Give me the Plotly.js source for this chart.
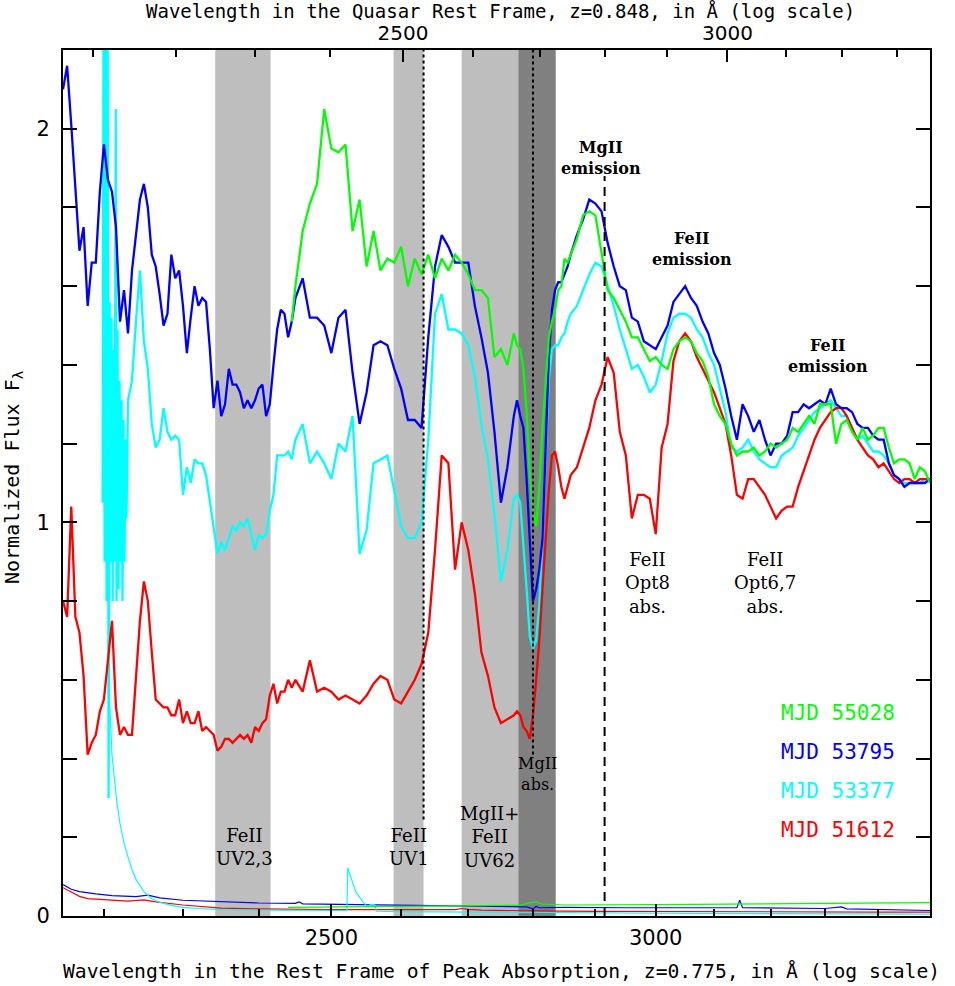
<!DOCTYPE html>
<html><head><meta charset="utf-8">
<script src="https://cdn.plot.ly/plotly-3.0.1.min.js"></script>
<style>html,body{margin:0;padding:0;background:#fff}#chart{width:955px;height:986px}</style>
</head><body><div id="chart"></div>
<script>
// ---------------- DATA ----------------
const zAbs = 0.775, zQso = 0.848;
const seriesLabels = ['MJD 55028', 'MJD 53795', 'MJD 53377', 'MJD 51612'];

// wavelength grid (rest frame of peak absorption, Angstrom)
const wave = [
2150,2155,2160,2165,2170,2175,2180,2185,2190,2195,
2200,2205,2210,2215,2220,2225,2230,2235,2240,2245,
2250,2255,2260,2265,2270,2275,2280,2285,2290,2295,
2300,2305,2310,2315,2320,2325,2330,2335,2340,2345,
2350,2355,2360,2365,2370,2375,2380,2385,2390,2395,
2400,2405,2410,2415,2420,2425,2430,2435,2440,2445,
2450,
2460,2470,2480,2490,2500,2510,2520,2530,2540,2550,
2560,2570,2580,2590,2600,2610,2620,2630,2640,2650,
2660,2670,2680,2690,2700,2710,2720,2730,2740,2750,
2760,
2770,2775,2780,2785,2790,2795,2800,2805,2810,2815,
2820,2825,2830,2835,2840,2845,2850,2855,2860,
2870,2880,2890,2900,2910,2920,2930,2940,2950,2960,
2970,2980,2990,3000,3010,3020,3030,3040,3050,3060,
3070,3080,3090,3100,3110,3120,3130,3140,3150,3160,
3170,3180,3190,3200,3210,3220,3230,3240,3250,3260,
3270,3280,3290,3300,3310,3320,3330,3340,3350,3360,
3370,3380,3390,3400,3410,3420,3430,3440,3450,3460,
3470,3480,3490,3500];

// MJD 55028 (green)
const flux55028 = [
null,null,null,null,null,null,null,null,null,null,
null,null,null,null,null,null,null,null,null,null,
null,null,null,null,null,null,null,null,null,null,
null,null,null,null,null,null,null,null,null,null,
null,null,null,null,null,null,null,null,null,null,
null,null,null,null,null,null,null,null,null,1.51,
1.60,
1.74,1.81,1.86,2.05,1.95,1.94,1.96,1.74,1.82,1.65,
1.74,1.64,1.67,1.66,1.70,1.60,1.67,1.63,1.68,1.62,
1.67,1.64,1.68,1.66,1.63,1.59,1.59,1.57,1.42,1.44,
1.40,
1.48,1.45,1.44,1.39,1.28,1.12,1.03,0.99,1.09,1.24,
1.36,1.47,1.51,1.54,1.59,1.60,1.67,1.66,1.68,
1.72,1.78,1.79,1.78,1.69,1.59,1.57,1.54,1.51,1.47,
1.47,1.44,1.41,1.42,1.40,1.39,1.44,1.46,1.47,1.46,
1.43,1.41,1.37,1.30,1.27,1.25,1.20,1.17,1.18,1.18,
1.19,1.17,1.18,1.20,1.19,1.20,1.21,1.24,1.23,1.25,
1.27,1.25,1.30,1.30,1.30,1.20,1.25,1.26,1.23,1.21,
1.24,1.21,1.22,1.24,1.24,1.19,1.15,1.16,1.16,1.15,
1.11,1.14,1.13,1.10];

// MJD 53795 (blue)
const flux53795 = [
2.10,2.16,2.01,1.85,1.69,1.75,1.55,1.66,1.66,1.84,
1.96,1.87,1.84,1.75,1.51,1.59,1.48,1.64,1.73,1.82,
1.86,1.80,1.68,1.65,1.58,1.50,1.53,1.68,1.62,1.64,
1.55,1.43,1.52,1.60,1.55,1.57,1.56,1.44,1.29,1.36,
1.27,1.30,1.39,1.35,1.35,1.33,1.29,1.31,1.29,1.31,
1.34,1.35,1.27,1.30,1.40,1.49,1.54,1.53,1.47,1.51,
1.57,
1.62,1.52,1.52,1.50,1.43,1.52,1.54,1.38,1.25,1.33,
1.45,1.46,1.45,1.39,1.34,1.26,1.26,1.24,1.47,1.65,
1.73,1.70,1.66,1.66,1.66,1.55,1.47,1.38,1.23,1.05,
1.14,
1.27,1.31,1.27,1.24,1.11,0.94,0.80,0.83,0.88,0.96,
1.20,1.42,1.54,1.59,1.61,1.61,1.63,1.65,1.68,
1.73,1.77,1.82,1.81,1.79,1.71,1.65,1.60,1.59,1.52,
1.51,1.46,1.45,1.44,1.47,1.50,1.56,1.58,1.60,1.57,
1.55,1.51,1.48,1.43,1.40,1.34,1.27,1.21,1.30,1.27,
1.23,1.26,1.21,1.17,1.20,1.20,1.22,1.28,1.28,1.30,
1.29,1.30,1.31,1.30,1.34,1.30,1.29,1.29,1.28,1.25,
1.24,1.24,1.22,1.21,1.21,1.15,1.12,1.11,1.09,1.10,
1.10,1.10,1.10,1.11];

// MJD 53377 (cyan)
const flux53377 = [
null,null,null,null,null,null,null,null,null,null,
null,null,null,null,null,null,1.31,1.36,1.51,1.64,
1.46,1.39,1.25,1.19,1.21,1.29,1.23,1.21,1.22,1.21,
1.07,1.14,1.10,1.16,1.15,1.15,1.12,1.05,0.99,0.92,
0.95,0.93,0.96,0.99,0.98,1.00,0.99,1.01,0.97,0.93,
0.97,0.96,0.97,1.03,1.07,1.17,1.17,1.17,1.18,1.16,
1.21,
1.25,1.15,1.18,1.15,1.11,1.20,1.18,1.27,0.92,0.98,
1.15,1.16,1.17,1.08,0.99,0.96,0.96,1.00,1.21,1.53,
1.58,1.49,1.49,1.48,1.45,1.37,1.25,1.16,1.02,0.85,
0.93,
1.06,1.07,1.05,0.95,0.83,0.71,0.68,0.70,0.79,0.98,
1.18,1.36,1.44,1.45,1.45,1.47,1.48,1.51,1.53,
1.55,1.59,1.63,1.66,1.65,1.60,1.55,1.49,1.44,1.39,
1.40,1.37,1.33,1.35,1.41,1.48,1.52,1.53,1.53,1.52,
1.49,1.47,1.43,1.40,1.34,1.28,1.19,1.18,1.19,1.21,
1.18,1.16,1.15,1.14,1.14,1.17,1.18,1.19,1.22,1.24,
1.26,1.28,1.29,1.30,1.31,1.29,1.27,1.27,1.24,1.21,
1.22,1.20,1.18,1.18,1.17,1.15,1.12,1.11,1.10,1.10,
1.10,1.10,1.11,1.11];
// MJD 53377: noisy blue end of the spectrum, sampled finely
const spikeWave53377 = [2198.4,2199.6,2200.9,2202.1,2203.3,2204.6,2205.8,2207.1,2208.3,2209.5,
  2210.8,2212.0,2213.2,2214.7,2215.7,2216.9,2218.2,2219.4,2220.7,2221.9,2223.1,2224.4,2225.6,2226.8,2228.1,2230];
const spikeFlux53377 = [1.05,2.35,0.90,2.35,0.80,2.35,0.30,1.56,0.90,1.52,
  0.80,1.44,0.90,2.05,0.80,1.49,0.83,1.36,0.90,1.31,0.80,1.26,0.90,1.21,1.01,1.31];

// MJD 51612 (red)
const flux51612 = [
0.80,0.76,1.04,0.76,0.72,0.61,0.41,0.44,0.46,0.52,
0.55,0.65,0.75,0.53,0.46,0.48,0.46,0.46,0.60,0.75,
0.85,0.80,0.67,0.55,0.54,0.53,0.53,0.51,0.51,0.55,
0.49,0.52,0.49,0.49,0.52,0.47,0.48,0.47,0.46,0.42,
0.43,0.45,0.45,0.44,0.45,0.46,0.45,0.46,0.44,0.48,
0.47,0.49,0.50,0.56,0.59,0.54,0.57,0.57,0.60,0.58,
0.60,
0.57,0.65,0.57,0.58,0.57,0.55,0.56,0.55,0.54,0.56,
0.59,0.61,0.60,0.55,0.54,0.57,0.60,0.64,0.72,0.93,
1.17,1.15,0.88,1.00,0.93,0.82,0.67,0.61,0.53,0.49,
0.50,
0.51,0.52,0.51,0.48,0.47,0.45,0.51,0.60,0.70,0.83,
0.97,1.08,1.17,1.18,1.14,1.09,1.06,1.09,1.12,
1.14,1.19,1.24,1.31,1.35,1.42,1.38,1.23,1.17,1.01,
1.07,1.07,1.06,0.97,1.19,1.25,1.41,1.46,1.48,1.46,
1.42,1.39,1.36,1.33,1.29,1.25,1.17,1.07,1.06,1.11,
1.11,1.09,1.07,1.04,1.01,1.03,1.04,1.04,1.09,1.13,
1.17,1.21,1.24,1.26,1.28,1.29,1.29,1.27,1.24,1.21,
1.19,1.17,1.16,1.14,1.15,1.13,1.11,1.10,1.11,1.11,
1.10,1.11,1.11,1.11];

// error spectra (thin curves near zero)
const errWave55028 = [2440,2500,2600,2700,2780,2795,2805,2815,2850,3000,3200,3500];
const err55028     = [0.022,0.023,0.024,0.026,0.027,0.034,0.036,0.030,0.028,0.029,0.031,0.034];
const errWave53795 = [2150,2160,2170,2190,2210,2240,2255,2270,2300,2350,2400,2450,2455,2460,2500,2600,2700,2790,2800,2805,2810,2850,2950,3140,3145,3150,3300,3330,3340,3500];
const err53795     = [0.080,0.068,0.062,0.056,0.052,0.049,0.053,0.046,0.040,0.036,0.033,0.032,0.036,0.031,0.030,0.028,0.025,0.023,0.018,0.024,0.021,0.022,0.021,0.021,0.040,0.021,0.019,0.023,0.018,0.014];
const errWave53377 = [2205,2207,2210,2213,2216,2220,2225,2230,2235,2240,2250,2260,2270,2285,2300,2320,2350,2400,2450,2522,2523,2535,2545,2551,2557,2562,2564,2600,2800,3000,3500];
const err53377     = [0.70,0.55,0.41,0.34,0.29,0.235,0.185,0.15,0.118,0.093,0.062,0.044,0.035,0.027,0.022,0.019,0.016,0.015,0.015,0.014,0.122,0.060,0.035,0.024,0.030,0.028,0.012,0.011,0.009,0.007,0.005];
const errWave51612 = [2150,2160,2170,2180,2200,2230,2250,2265,2300,2350,2400,2500,2680,2690,2700,2720,2800,2900,3400,3500];
const err51612     = [0.072,0.060,0.050,0.044,0.042,0.038,0.041,0.036,0.028,0.020,0.018,0.016,0.016,0.019,0.017,0.015,0.013,0.012,0.010,0.010];

// shaded line regions (Angstrom)
const bandLo = [2342, 2589, 2690, 2777];
const bandHi = [2416, 2633, 2777, 2836];
const dottedLineWave = [2633, 2800];
const dottedLineBottom = [0.245, 0.41];
const dashedLineWave = 2915;
const dashedLineTop = 1.88;

// ticks
const bottomTicks = [2500, 3000, 3500];
const bottomMinor = [2200,2300,2400,2600,2700,2800,2900,3100,3200,3300,3400];
const topTicks = [2500, 3000];
const topMinor = [2100,2200,2300,2400,2600,2700,2800,2900,3100,3200,3300];
const yTicks = [0, 1, 2];
const yMinor = [0.2,0.4,0.6,0.8,1.2,1.4,1.6,1.8,2.0];

// ---------------- STYLE / LAYOUT ----------------
const conv = (1 + zAbs) / (1 + zQso);
const xLo = 2150, xHi = 3500, yTop = 2.2;
const colors = {g:'#00ff00', b:'#0000ff', c:'#00ffff', r:'#ff0000'};
const bandColors = ['#bebebe','#bebebe','#bebebe','#808080'];
const L = 63, R = 930, T = 50, B = 916;
const px = x => (x - L) / (R - L);
const py = y => (B - y) / (B - T);

const traces = [];
bandLo.forEach((lo, i) => {
  const hi = bandHi[i];
  traces.push({x:[lo,lo,hi,hi,lo], y:[0,yTop,yTop,0,0], mode:'lines', fill:'toself',
    fillcolor:bandColors[i], line:{width:0, color:bandColors[i]}, hoverinfo:'skip', showlegend:false});
});
[[errWave51612, err51612, colors.r],[errWave53795, err53795, colors.b],
 [errWave53377, err53377, colors.c],[errWave55028, err55028, colors.g]].forEach(([x,y,c]) => {
  traces.push({x, y, mode:'lines', line:{color:c, width:1.2}, hoverinfo:'skip', showlegend:false});
});
const specW = 2.3;
traces.push({x:spikeWave53377, y:spikeFlux53377, mode:'lines', line:{color:colors.c, width:specW}, showlegend:false});
traces.push({x:wave, y:flux53377, mode:'lines', line:{color:colors.c, width:specW}, connectgaps:false, showlegend:false});
traces.push({x:wave, y:flux51612, mode:'lines', line:{color:colors.r, width:specW}, showlegend:false});
traces.push({x:wave, y:flux53795, mode:'lines', line:{color:colors.b, width:specW}, showlegend:false});
traces.push({x:wave, y:flux55028, mode:'lines', line:{color:colors.g, width:specW}, connectgaps:false, showlegend:false});
dottedLineWave.forEach((w, i) => {
  traces.push({x:[w,w], y:[dottedLineBottom[i], yTop], mode:'lines', line:{color:'black', width:2, dash:'dot'}, hoverinfo:'skip', showlegend:false});
});
traces.push({x:[dashedLineWave,dashedLineWave], y:[0, dashedLineTop], mode:'lines', line:{color:'black', width:2, dash:'9px,6px'}, hoverinfo:'skip', showlegend:false});
// anchor trace for the top (quasar rest frame) axis
traces.push({x:[2500], y:[null], xaxis:'x2', yaxis:'y', mode:'lines', hoverinfo:'skip', showlegend:false});

const tickFont = {family:'DejaVu Sans, sans-serif', size:21, color:'black'};
const topTickFont = {family:'DejaVu Sans, sans-serif', size:20, color:'black'};
const monoFont = 'DejaVu Sans Mono, monospace';
const serif = 'DejaVu Serif, serif';

const annotations = [];
const labelSpecs = [
  [['MgII','emission'], 601, 158, 16, true],
  [['FeII','emission'], 692, 249, 16, true],
  [['FeII','emission'], 828, 356, 16, true],
  [['FeII','Opt8','abs.'], 647, 583, 18, false],
  [['FeII','Opt6,7','abs.'], 765, 583, 18, false],
  [['MgII','abs.'], 537, 774, 16, false],
  [['MgII+','FeII','UV62'], 489, 837, 18, false],
  [['FeII','UV2,3'], 244, 847, 18, false],
  [['FeII','UV1'], 409, 847, 18, false]
];
labelSpecs.forEach(([lines, x, y, s, b]) => {
  const t = lines.map(l => b ? '<b>'+l+'</b>' : l).join('<br>');
  annotations.push({text:t, xref:'paper', yref:'paper', x:px(x), y:py(y), align:'center',
    xanchor:'center', yanchor:'middle', showarrow:false, font:{family:serif, size:s, color:'black'}});
});
const legendY = [713, 752, 791, 830];
const legendColors = [colors.g, colors.b, colors.c, colors.r];
seriesLabels.forEach((t, i) => {
  annotations.push({text:t, xref:'paper', yref:'paper', x:px(897), y:py(legendY[i]), xanchor:'right', yanchor:'middle',
    showarrow:false, font:{family:monoFont, size:21, color:legendColors[i]}});
});
annotations.push({text:'Wavelength in the Quasar Rest Frame, z=0.848, in Å (log scale)', xref:'paper', yref:'paper',
  x:px(500), y:py(11), xanchor:'center', yanchor:'middle', showarrow:false, font:{family:monoFont, size:19, color:'black'}});
annotations.push({text:'Wavelength in the Rest Frame of Peak Absorption, z=0.775, in Å (log scale)', xref:'paper', yref:'paper',
  x:px(501), y:py(971), xanchor:'center', yanchor:'middle', showarrow:false, font:{family:monoFont, size:19.7, color:'black'}});
annotations.push({text:'Normalized Flux F<sub>λ</sub>', xref:'paper', yref:'paper', textangle:-90,
  x:px(13), y:py(478), xanchor:'center', yanchor:'middle', showarrow:false, font:{family:monoFont, size:20, color:'black'}});

const axisCommon = {ticks:'inside', tickwidth:2, tickcolor:'black', showline:true, linewidth:2, linecolor:'black',
  showgrid:false, zeroline:false, tickfont:tickFont, autorange:false};

const layout = {
  width:955, height:986, margin:{l:L, r:955-R, t:T, b:986-B, pad:0},
  paper_bgcolor:'white', plot_bgcolor:'white', showlegend:false,
  xaxis: Object.assign({}, axisCommon, {type:'log', range:[Math.log10(xLo), Math.log10(xHi)],
    tickmode:'array', tickvals:bottomTicks, ticktext:bottomTicks.map(String), ticklen:12, mirror:false,
    ticklabelstandoff:2,
    minor:{tickmode:'array', tickvals:bottomMinor, ticks:'inside', ticklen:7, tickwidth:2, tickcolor:'black', showgrid:false}}),
  xaxis2: Object.assign({}, axisCommon, {type:'log', overlaying:'x', side:'top', anchor:'y',
    range:[Math.log10(xLo*conv), Math.log10(xHi*conv)], tickfont:topTickFont,
    tickmode:'array', tickvals:topTicks, ticktext:topTicks.map(String), ticklen:12, mirror:false,
    ticklabelstandoff:0,
    minor:{tickmode:'array', tickvals:topMinor, ticks:'inside', ticklen:7, tickwidth:2, tickcolor:'black', showgrid:false}}),
  yaxis: Object.assign({}, axisCommon, {range:[0, yTop], tickmode:'array', tickvals:yTicks, ticktext:yTicks.map(String),
    ticklen:14, mirror:'allticks', ticklabelstandoff:7,
    minor:{tickmode:'array', tickvals:yMinor, ticks:'inside', ticklen:7, tickwidth:2, tickcolor:'black', showgrid:false}}),
  annotations
};

Plotly.newPlot('chart', traces, layout, {displayModeBar:false, staticPlot:true});
</script>
</body></html>
